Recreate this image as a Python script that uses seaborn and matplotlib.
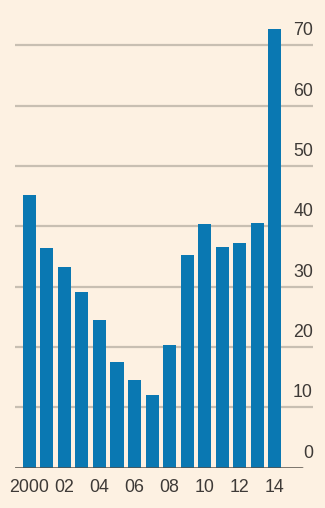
import matplotlib
matplotlib.use("Agg")
import matplotlib.pyplot as plt
import matplotlib.transforms as mtransforms
import seaborn as sns
import pandas as pd

years = [str(y) for y in range(2000, 2015)]
values = [45.2, 36.4, 33.3, 29.2, 24.5, 17.6, 14.6, 12.1, 20.3, 35.2, 40.4, 36.6, 37.2, 40.5, 72.7]
xtick_labels = ["2000", "", "02", "", "04", "", "06", "", "08", "", "10", "", "12", "", "14"]
ytick_values = [0, 10, 20, 30, 40, 50, 60, 70]
ytick_labels = ["0", "10", "20", "30", "40", "50", "60", "70"]

BG = "#FDF1E2"
BAR = "#0A78B2"
GRID = "#C8BFB2"
TEXT = "#3E3A37"
BASE = "#555049"

sns.set_theme(style="white")
plt.rcParams["font.family"] = ["Liberation Sans Narrow", "Liberation Sans", "DejaVu Sans"]

W, H = 325, 508
fig = plt.figure(figsize=(W / 100, H / 100), dpi=100, facecolor=BG)
left_px, right_px = 15, 313
bottom_px = 467.7
px_per_unit = 6.034
ytop = 75
top_px = bottom_px - ytop * px_per_unit
ax = fig.add_axes([left_px / W, (H - bottom_px) / H, (right_px - left_px) / W, (bottom_px - top_px) / H])
ax.set_facecolor(BG)

df = pd.DataFrame({"year": years, "value": values})
sns.barplot(data=df, x="year", y="value", color=BAR, width=0.75, saturation=1, ax=ax, zorder=3)
for p in ax.patches:
    p.set_edgecolor("none")

pitch = 17.54
x_left = (left_px - 29.3) / pitch
x_right = (right_px - 29.3) / pitch
ax.set_xlim(x_left, x_right)
ax.set_ylim(0, ytop)

for v in ytick_values[1:]:
    ax.axhline(v, color=GRID, lw=1.6, zorder=1)
ax.axhline(0, xmin=0, xmax=(301.7 - left_px) / (right_px - left_px), color=BASE, lw=1.8, zorder=4)

for s in ax.spines.values():
    s.set_visible(False)

ax.set_xlabel("")
ax.set_ylabel("")
ax.set_xticks(range(len(years)))
ax.set_xticklabels(xtick_labels)
ax.tick_params(axis="x", length=0, pad=8, labelsize=12.8, labelcolor=TEXT)

ax.yaxis.tick_right()
ax.set_yticks(ytick_values)
ax.set_yticklabels(ytick_labels)
ax.tick_params(axis="y", length=0, pad=0, labelsize=12.8, labelcolor=TEXT)
offset = mtransforms.ScaledTranslation(0, 16.5 / 100, fig.dpi_scale_trans)
for lab in ax.get_yticklabels():
    lab.set_horizontalalignment("right")
    lab.set_transform(lab.get_transform() + offset)

fig.savefig("out.png", dpi=100, facecolor=BG)
